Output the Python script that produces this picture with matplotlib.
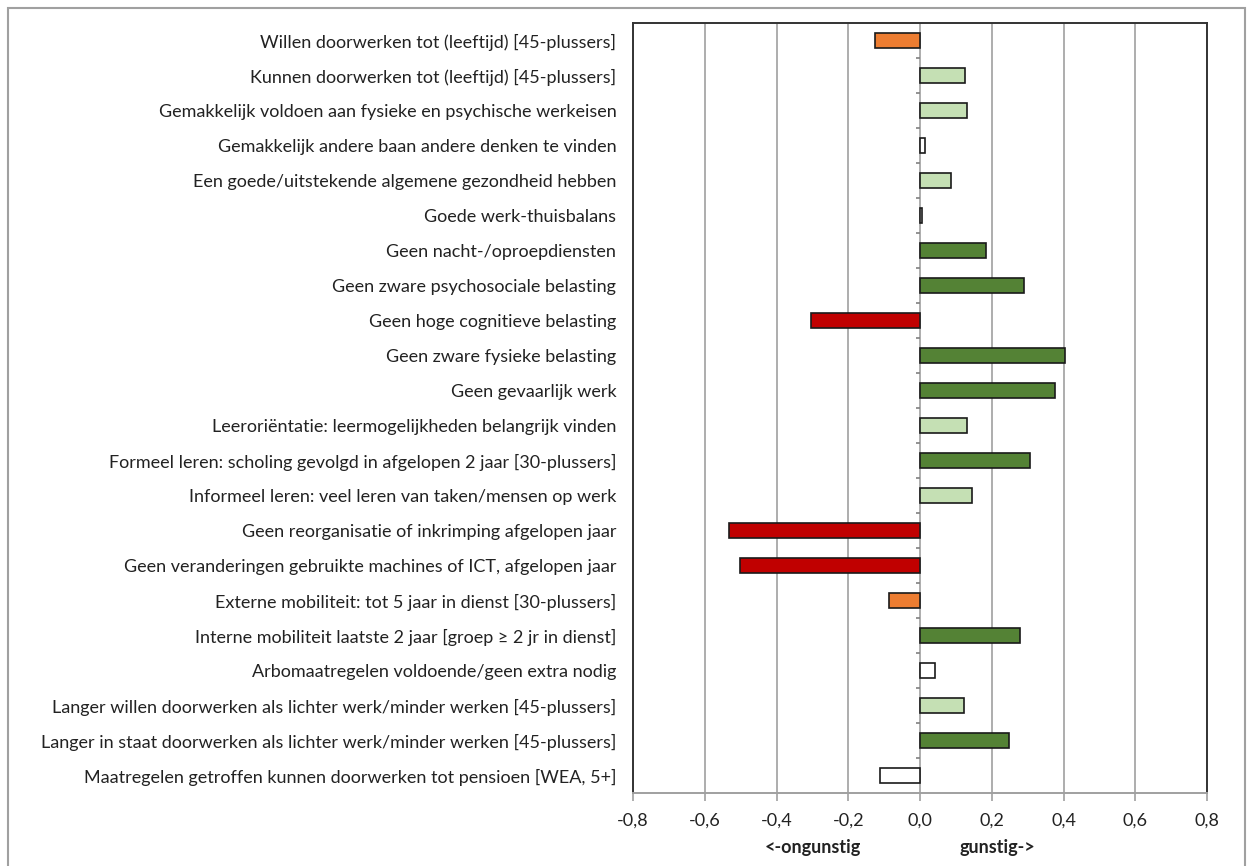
import matplotlib.pyplot as plt
import numpy as np
from matplotlib.patches import Rectangle
from matplotlib.transforms import blended_transform_factory

plt.rcParams['font.family'] = ['Lato', 'DejaVu Sans']

labels = [
    "Willen doorwerken tot (leeftijd) [45-plussers]",
    "Kunnen doorwerken tot (leeftijd) [45-plussers]",
    "Gemakkelijk voldoen aan fysieke en psychische werkeisen",
    "Gemakkelijk andere baan andere denken te vinden",
    "Een goede/uitstekende algemene gezondheid hebben",
    "Goede werk-thuisbalans",
    "Geen nacht-/oproepdiensten",
    "Geen zware psychosociale belasting",
    "Geen hoge cognitieve belasting",
    "Geen zware fysieke belasting",
    "Geen gevaarlijk werk",
    "Leeroriëntatie: leermogelijkheden belangrijk vinden",
    "Formeel leren: scholing gevolgd in afgelopen 2 jaar [30-plussers]",
    "Informeel leren: veel leren van taken/mensen op werk",
    "Geen reorganisatie of inkrimping afgelopen jaar",
    "Geen veranderingen gebruikte machines of ICT, afgelopen jaar",
    "Externe mobiliteit: tot 5 jaar in dienst [30-plussers]",
    "Interne mobiliteit laatste 2 jaar [groep \u2265 2 jr in dienst]",
    "Arbomaatregelen voldoende/geen extra nodig",
    "Langer willen doorwerken als lichter werk/minder werken [45-plussers]",
    "Langer in staat doorwerken als lichter werk/minder werken [45-plussers]",
    "Maatregelen getroffen kunnen doorwerken tot pensioen [WEA, 5+]",
]
values = [-0.125, 0.126, 0.132, 0.014, 0.086, 0.005, 0.183, 0.290, -0.305, 0.405,
          0.375, 0.130, 0.308, 0.144, -0.533, -0.501, -0.086, 0.278, 0.042, 0.122,
          0.247, -0.111]
# klasse per indicator: o=oranje, l=lichtgroen, w=wit, g=donkergroen, r=rood
klasse = ['o', 'l', 'l', 'w', 'l', 'w', 'g', 'g', 'r', 'g', 'g', 'l', 'g', 'l',
          'r', 'r', 'o', 'g', 'w', 'l', 'g', 'w']
kleuren = {'o': '#ED7D31', 'l': '#C5E0B4', 'w': '#FFFFFF', 'g': '#548235', 'r': '#C00000'}
xticks = [-0.8, -0.6, -0.4, -0.2, 0.0, 0.2, 0.4, 0.6, 0.8]

fig = plt.figure(figsize=(12.51, 8.66), dpi=100)
ax = fig.add_axes([633/1251, 1-793/866, (1207-633)/1251, (793-23)/866])

y = np.arange(len(labels))
ax.barh(y, values, height=0.41, color=[kleuren[k] for k in klasse],
        edgecolor='#1a1a1a', linewidth=1.2, zorder=3)

ax.set_xlim(-0.8, 0.8)
ax.set_ylim(len(labels) - 0.5, -0.5)
ax.set_xticks(xticks)
ax.set_xticklabels([f"{t:.1f}".replace('.', ',').replace('-0,0', '0,0') for t in xticks],
                   fontsize=13, color='#222222')
ax.set_yticks(y)
ax.set_yticklabels(labels, fontsize=13, color='#222222')
ax.tick_params(axis='y', length=0, pad=12)
ax.tick_params(axis='x', length=6, color='#a0a0a0', width=1.2, pad=8)

ax.grid(axis='x', color='#a0a0a0', linewidth=1.2, zorder=0)
for s in ['left', 'right', 'top']:
    ax.spines[s].set_color('#333333')
    ax.spines[s].set_linewidth(1.4)
ax.spines['bottom'].set_color('#a0a0a0')
ax.spines['bottom'].set_linewidth(1.4)

# kleine streepjes op de nul-as tussen de categorieën
ax.hlines(y[:-1] + 0.5, -0.012, 0, color='#808080', linewidth=1.2, zorder=2)

trans = blended_transform_factory(ax.transData, fig.transFigure)
ax.text(-0.3, 1-848/866, "<-ongunstig", transform=trans, ha='center', va='center',
        fontsize=13, fontweight='bold', color='#222222')
ax.text(0.217, 1-848/866, "gunstig->", transform=trans, ha='center', va='center',
        fontsize=13, fontweight='bold', color='#222222')

# kader om de grafiek
fig.patches.append(Rectangle((8/1251, -0.05), (1245-8)/1251, 1.05 - 8/866,
                             transform=fig.transFigure, fill=False,
                             edgecolor='#a0a0a0', linewidth=1.5))

fig.savefig('out.png', dpi=100)
